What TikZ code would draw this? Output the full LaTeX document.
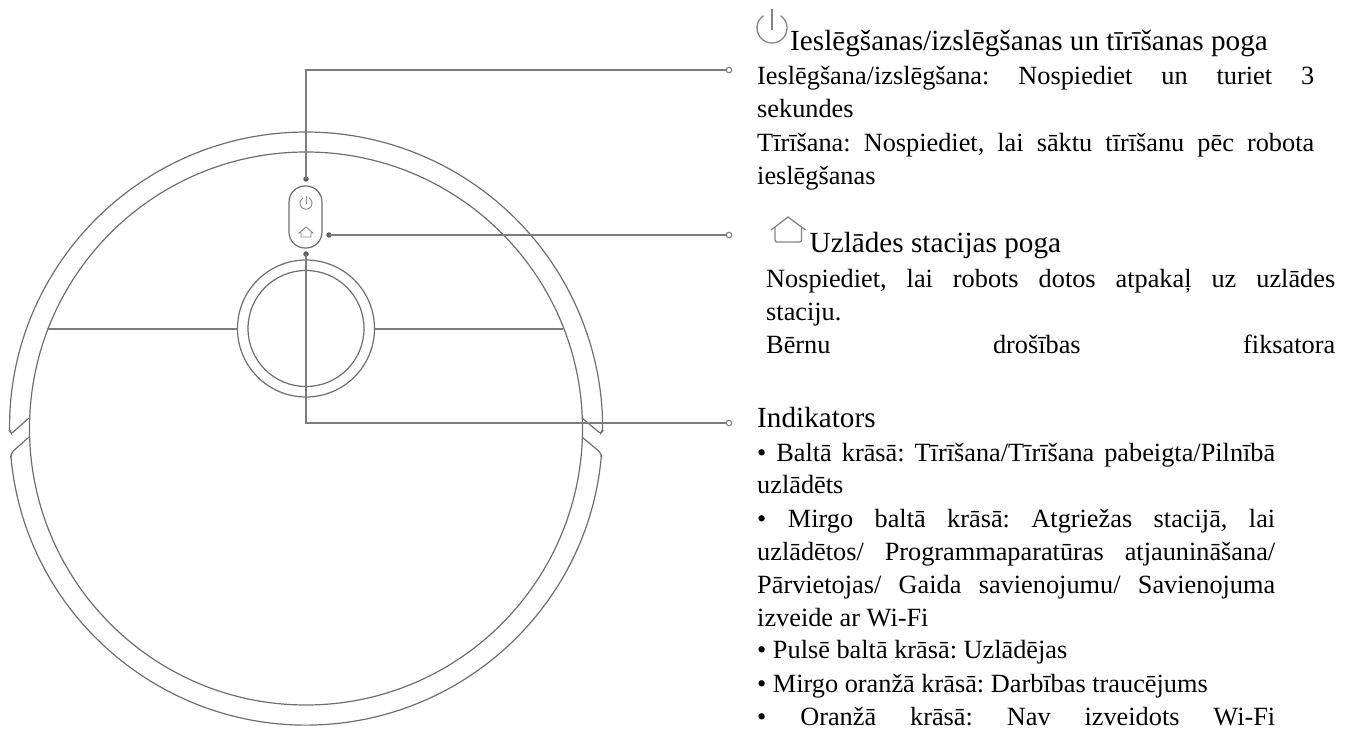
\documentclass[tikz,border=0pt]{standalone}
\usepackage{fontspec}
\setmainfont{Liberation Serif}
\frenchspacing
\definecolor{lineg}{HTML}{6E6E6E}
\definecolor{connector}{HTML}{7C7C7C}
\definecolor{icon}{HTML}{858585}
\newcommand{\bodyline}[5]{\node[textline] (#1) at (#2,#3) {\makebox[#4pt][s]{#5}};}
\newcommand{\plainline}[4]{\node[textline] (#1) at (#2,#3) {#4};}
\newcommand{\headline}[4]{\node[headtext] (#1) at (#2,#3) {#4};}
\tikzset{
  x=1pt,y=1pt,
  robot/.style={draw=lineg,line width=1.2pt},
  conn/.style={draw=connector,line width=1.6pt},
  dotend/.style={circle,fill=lineg!85!black,inner sep=0pt,minimum size=5.5pt},
  ringend/.style={circle,draw=connector,line width=1.1pt,fill=white,inner sep=0pt,minimum size=5.5pt},
  iconline/.style={draw=icon,line width=1.3pt},
  textline/.style={anchor=base west,inner sep=0pt,font=\fontsize{26.3}{26.3}\selectfont},
  headtext/.style={anchor=base west,inner sep=0pt,font=\fontsize{29.2}{29.2}\selectfont},
}
\begin{document}
\begin{tikzpicture}
\useasboundingbox (0,0) rectangle (1357,-733);
% robot body
\draw[robot] (306,-428.5) circle (276.5);
\draw[robot,rounded corners=2pt] (29,-418) -- (11.5,-433.5) -- (9.6,-431.1) arc (180.5:-0.5:296.5) -- (600.5,-433.5) -- (582,-418);
\draw[robot,rounded corners=2pt] (29,-437) -- (11.5,-452.5) -- (10.9,-456) arc (185.3:354.7:296.5) -- (600.5,-452.5) -- (582,-437);
\draw[robot] (306,-328.5) circle (68.5);
\draw[robot] (306,-328.5) circle (58);
\draw[conn] (47,-329) -- (237.5,-329);
\draw[conn] (374.5,-329) -- (563,-329);
% button pill
\draw[robot,rounded corners=16pt] (289,-186) rectangle (322,-248);
\draw[icon,line width=.9pt] (309,-198) arc (60:-240:6);
\draw[icon,line width=.9pt] (306,-196) -- (306,-204);
\draw[icon,line width=.9pt] (299,-233) -- (306,-227) -- (313,-233) -- (311,-233) -- (311,-237) -- (301,-237) -- (301,-233) -- cycle;
% connectors
\node[dotend] (d1) at (306,-179) {};
\node[dotend] (d2) at (329,-235) {};
\node[dotend] (d3) at (306,-254) {};
\node[ringend] (e1) at (729,-70) {};
\node[ringend] (e2) at (729,-235) {};
\node[ringend] (e3) at (729,-423) {};
\draw[conn] (d1.center) |- (e1.west);
\draw[conn] (d2.center) -- (e2.west);
\draw[conn] (d3.center) |- (e3.west);
% heading icons
\draw[iconline] (780.6,-15.7) arc (55:-235:15);
\draw[iconline] (772,-9) -- (772,-30);
\draw[iconline] (771,-230) -- (788,-217) -- (805.5,-230);
\draw[iconline,rounded corners=2pt] (775,-227) -- (775,-242) -- (801.5,-242) -- (801.5,-227);
% text
\headline{h1}{790}{-51}{Ieslēgšanas/izslēgšanas un tīrīšanas poga}
\bodyline{a1}{757}{-85}{557}{Ieslēgšana/izslēgšana: Nospiediet un turiet 3}
\plainline{a2}{757}{-118}{sekundes}
\bodyline{a3}{757}{-152}{557}{Tīrīšana: Nospiediet, lai sāktu tīrīšanu pēc robota}
\plainline{a4}{757}{-184}{ieslēgšanas}
\headline{h2}{809.5}{-252}{Uzlādes stacijas poga}
\bodyline{b1}{766}{-287}{569}{Nospiediet, lai robots dotos atpakaļ uz uzlādes}
\plainline{b2}{766}{-320}{staciju.}
\bodyline{b3}{766}{-353}{569}{Bērnu drošības fiksatora}
\headline{h3}{757}{-427}{Indikators}
\bodyline{c1}{757}{-461}{518}{• Baltā krāsā: Tīrīšana/Tīrīšana pabeigta/Pilnībā}
\plainline{c2}{757}{-493}{uzlādēts}
\bodyline{c3}{757}{-527}{518}{• Mirgo baltā krāsā: Atgriežas stacijā, lai}
\bodyline{c4}{757}{-560}{518}{uzlādētos/ Programmaparatūras atjaunināšana/}
\bodyline{c5}{757}{-593}{518}{Pārvietojas/ Gaida savienojumu/ Savienojuma}
\plainline{c6}{757}{-626}{izveide ar Wi-Fi}
\plainline{c7}{757}{-658}{• Pulsē baltā krāsā: Uzlādējas}
\plainline{c8}{757}{-692}{• Mirgo oranžā krāsā: Darbības traucējums}
\bodyline{c9}{757}{-725}{518}{• Oranžā krāsā: Nav izveidots Wi-Fi}
\end{tikzpicture}
\end{document}
